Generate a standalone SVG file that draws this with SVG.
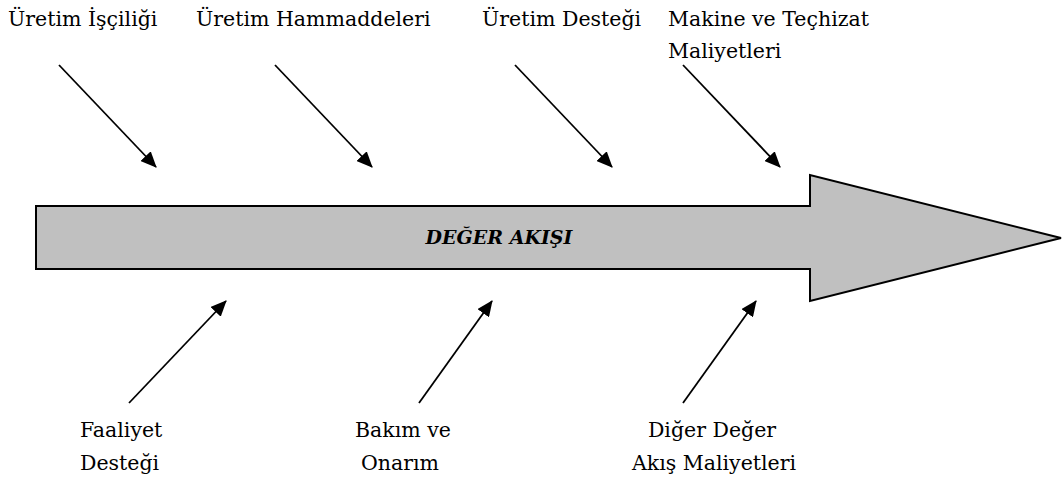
<svg xmlns="http://www.w3.org/2000/svg" width="1062" height="482" viewBox="0 0 1062 482">
<style>
text{font-family:"DejaVu Serif","Liberation Serif",serif;font-size:20.5px;fill:#000}
.c{text-anchor:middle}
.ln{stroke:#000;stroke-width:1.8;fill:none;marker-end:url(#ah)}
.big{fill:#c0c0c0;stroke:#000;stroke-width:2}
.title{font-style:italic;font-weight:bold;font-family:"DejaVu Serif",serif;font-size:19px}
</style>
<defs>
<marker id="ah" viewBox="0 0 16 14" refX="15" refY="7" markerWidth="16" markerHeight="14" markerUnits="userSpaceOnUse" orient="auto">
<path d="M0,0 L16,7 L0,14 Z" fill="#000"/>
</marker>
</defs>
<g id="value-stream">
<path class="big" d="M36,206 L810,206 L810,175 L1061,238 L810,301 L810,269 L36,269 Z"/>
<text class="title c" x="499" y="244">DEĞER AKIŞI</text>
</g>
<g id="uretim-isciligi"><text x="8" y="26">Üretim İşçiliği</text></g>
<g id="uretim-hammaddeleri"><text x="196" y="26">Üretim Hammaddeleri</text></g>
<g id="uretim-destegi"><text x="482" y="26">Üretim Desteği</text></g>
<g id="makine"><text x="668" y="26">Makine ve Teçhizat</text><text x="668" y="58">Maliyetleri</text></g>
<g id="faaliyet"><text x="80" y="437">Faaliyet</text><text x="80" y="470">Desteği</text></g>
<g id="bakim"><text class="c" x="403" y="437">Bakım ve</text><text class="c" x="400" y="470">Onarım</text></g>
<g id="diger"><text class="c" x="712" y="437">Diğer Değer</text><text class="c" x="714" y="470">Akış Maliyetleri</text></g>
<g id="connectors">
<line class="ln" x1="59" y1="65" x2="156" y2="167"/>
<line class="ln" x1="275" y1="65" x2="372" y2="167"/>
<line class="ln" x1="515" y1="65" x2="612" y2="167"/>
<line class="ln" x1="683" y1="65" x2="780" y2="167"/>
<line class="ln" x1="129" y1="403" x2="226" y2="301"/>
<line class="ln" x1="419" y1="403" x2="492" y2="301"/>
<line class="ln" x1="683" y1="403" x2="756" y2="301"/>
</g>
</svg>
